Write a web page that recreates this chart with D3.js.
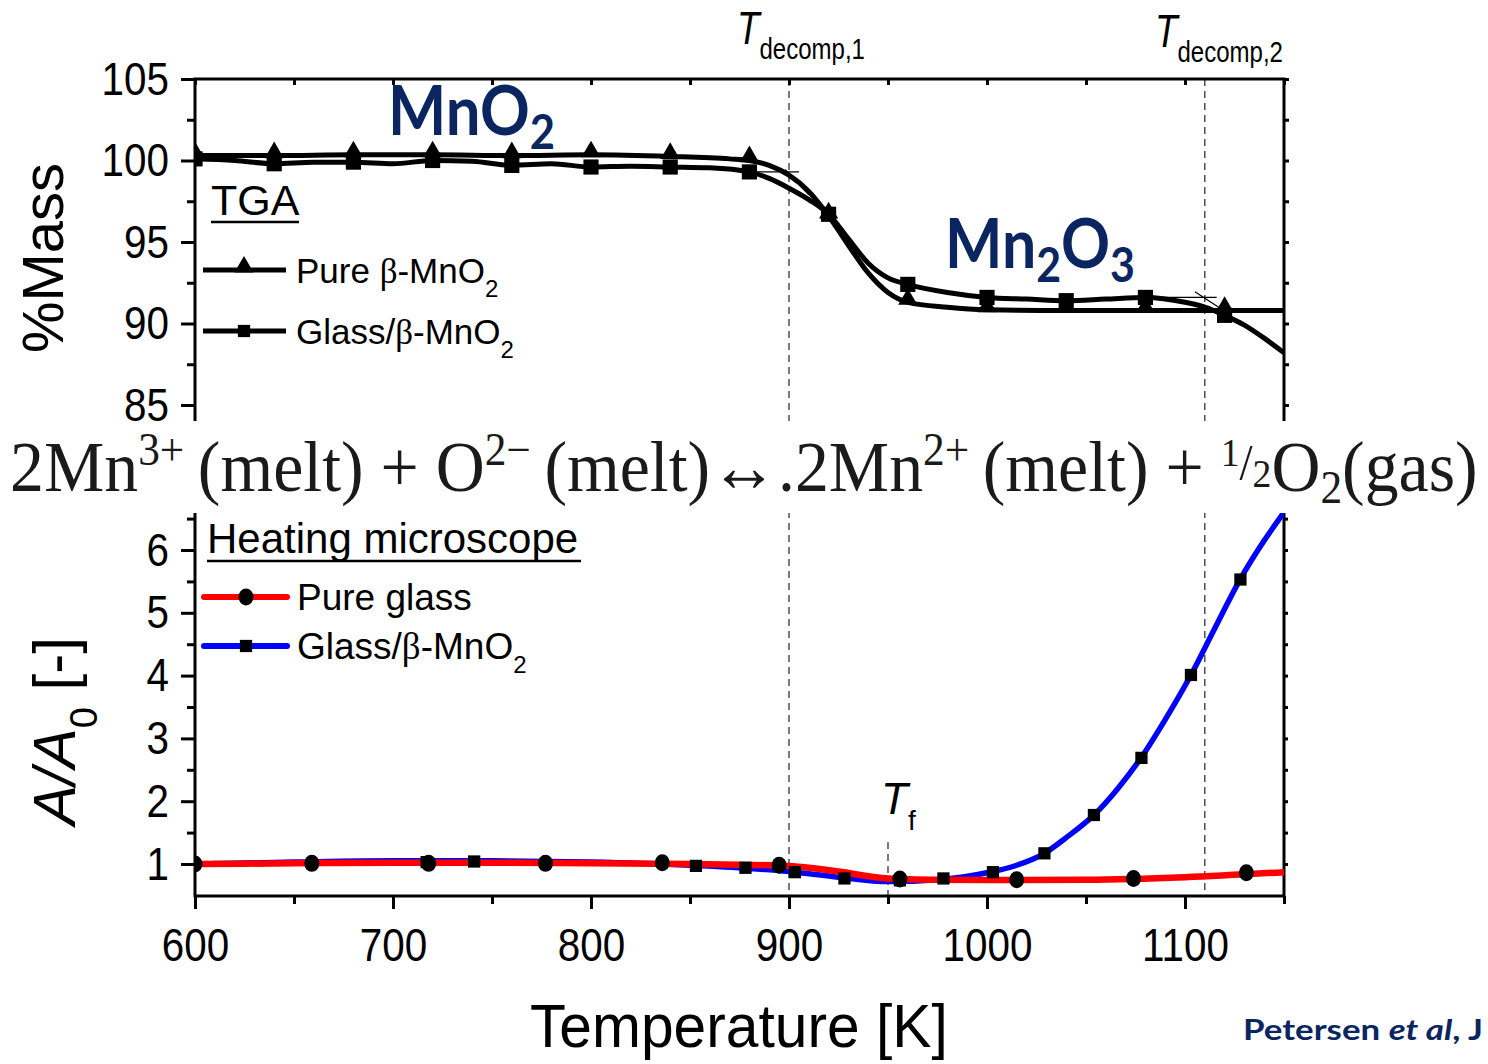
<!DOCTYPE html>
<html>
<head>
<meta charset="utf-8">
<script src="https://cdn.jsdelivr.net/npm/d3@7"></script>
<style>
  body { margin: 0; background: #fff; }
  svg { display: block; }
</style>
</head>
<body>
<div id="chart"></div>
<script>
// ---- data ----
const tgaPureT = [600, 640, 680, 720, 760, 800, 840, 870, 880, 890, 900, 910, 920, 930, 940, 950, 960, 980, 1000, 1040, 1080, 1120, 1150];
const tgaPureM = [100.3, 100.3, 100.35, 100.35, 100.3, 100.35, 100.25, 100.1, 100.0, 99.7, 99.1, 98.1, 96.6, 94.8, 93.1, 91.9, 91.3, 91.0, 90.85, 90.8, 90.8, 90.8, 90.8];
const tgaPureMarkT = [600, 640, 680, 720, 760, 800, 840, 880, 920, 960, 1000, 1040, 1080, 1120];
const tgaPureMarkM = [100.3, 100.3, 100.35, 100.35, 100.3, 100.35, 100.25, 100.05, 96.6, 91.3, 90.85, 90.8, 90.8, 90.8];

const tgaGlassT = [600, 620, 640, 660, 680, 700, 720, 740, 760, 780, 800, 820, 840, 860, 880, 890, 900, 910, 920, 930, 940, 950, 960, 980, 1000, 1020, 1040, 1060, 1080, 1100, 1110, 1120, 1130, 1140, 1150];
const tgaGlassM = [100.1, 100.0, 99.8, 99.9, 99.9, 99.8, 100.0, 99.95, 99.7, 99.8, 99.6, 99.65, 99.6, 99.55, 99.3, 98.9, 98.3, 97.6, 96.7, 95.2, 93.7, 92.8, 92.4, 91.9, 91.6, 91.5, 91.4, 91.5, 91.6, 91.3, 91.0, 90.5, 89.9, 89.1, 88.2];
const tgaGlassMarkT = [600, 640, 680, 720, 760, 800, 840, 880, 920, 960, 1000, 1040, 1080, 1120];
const tgaGlassMarkM = [100.1, 99.8, 99.9, 100.0, 99.7, 99.6, 99.6, 99.3, 96.7, 92.4, 91.6, 91.4, 91.6, 90.5];

const pureGlassT = [600, 650, 700, 750, 800, 850, 900, 925, 950, 975, 1000, 1050, 1100, 1150];
const pureGlassV = [1.0, 1.01, 1.02, 1.02, 1.01, 1.0, 0.97, 0.88, 0.77, 0.75, 0.745, 0.75, 0.79, 0.87];
const pureGlassMarkT = [600, 659, 718, 777, 836, 895, 956, 1015, 1074, 1131];
const pureGlassMarkV = [1.0, 1.01, 1.01, 1.01, 1.02, 0.98, 0.76, 0.75, 0.77, 0.86];

const mixT = [600, 650, 700, 750, 800, 850, 880, 900, 925, 950, 975, 1000, 1015, 1029, 1040, 1054, 1066, 1078, 1090, 1103, 1115, 1128, 1140, 1150];
const mixV = [1.0, 1.03, 1.05, 1.05, 1.03, 0.98, 0.93, 0.88, 0.79, 0.72, 0.75, 0.86, 0.98, 1.17, 1.42, 1.78, 2.2, 2.7, 3.3, 4.01, 4.75, 5.54, 6.15, 6.6];
const mixMarkT = [717, 741, 853, 878, 903, 928, 956, 978, 1003, 1029, 1054, 1078, 1103, 1128];
const mixMarkV = [1.03, 1.04, 0.97, 0.94, 0.87, 0.77, 0.74, 0.77, 0.87, 1.17, 1.78, 2.69, 4.01, 5.53];

// onset tangent construction lines (T, %mass pairs)
const tangent1 = [[[880, 99.3], [905, 99.3]], [[898, 99.45], [910, 97.9]]];
const tangent2 = [[[1082, 91.6], [1116, 91.6]], [[1105, 91.95], [1117, 91.0]]];

const xTicks = [600, 700, 800, 900, 1000, 1100];
const xMinor = [650, 750, 850, 950, 1050, 1150];
const massTicks = [85, 90, 95, 100, 105];
const massMinor = [87.5, 92.5, 97.5, 102.5];
const ratioTicks = [1, 2, 3, 4, 5, 6];
const ratioMinor = [1.5, 2.5, 3.5, 4.5, 5.5, 6.5];
const decompT = [900, 1110];
const flowT = 950;

// ---- layout ----
const W = 1488, H = 1064;
const left = 195, right = 1284;
const topY = 79, topEnd = 421, botStart = 513, botY = 896;
const sans = "'Liberation Sans', Arial, sans-serif";
const navy = "#0b2560";

const svg = d3.select("#chart").append("svg")
  .attr("width", W).attr("height", H)
  .style("background", "#fff");

const x = d3.scaleLinear().domain([600, 1150]).range([left, right]);
const yTop = d3.scaleLinear().domain([85, 105]).range([405, topY]);
const yBot = d3.scaleLinear().domain([1, 6]).range([864, 550]);

const defs = svg.append("defs");
defs.append("clipPath").attr("id", "clipTop").append("rect")
  .attr("x", left).attr("y", topY).attr("width", right - left).attr("height", topEnd - topY);
defs.append("clipPath").attr("id", "clipBot").append("rect")
  .attr("x", left).attr("y", botStart).attr("width", right - left).attr("height", botY - botStart);

// tick labels in the original are a slightly condensed Arial
const sx = 0.86;
function styleAxis(g) {
  g.select(".domain").remove();
  g.selectAll(".tick line").attr("stroke", "#000").attr("stroke-width", 3);
  g.selectAll("text").attr("font-family", sans).attr("font-size", 47).attr("fill", "#000")
    .each(function() {
      const t = d3.select(this);
      const xx = +t.attr("x") || 0;
      t.attr("x", xx / sx).attr("transform", `scale(${sx},1)`);
    });
}

// dashed guide lines (drawn first, under everything)
svg.selectAll(".decomp").data(decompT).enter().append("line")
  .attr("x1", d => x(d)).attr("x2", d => x(d))
  .attr("y1", topY).attr("y2", botY)
  .attr("stroke", "#333").attr("stroke-width", 1.3).attr("stroke-dasharray", "7,5");
svg.append("line")
  .attr("x1", x(flowT)).attr("x2", x(flowT)).attr("y1", 842).attr("y2", botY)
  .attr("stroke", "#333").attr("stroke-width", 1.3).attr("stroke-dasharray", "7,5");

// ---- top panel (TGA) ----
const frame = svg.append("g").attr("stroke", "#000").attr("stroke-width", 3).attr("fill", "none");
frame.append("path").attr("d", `M${left},${topEnd}V${topY}H${right}V${topEnd}`);
frame.append("path").attr("d", `M${left},${botStart}V${botY}H${right}V${botStart}`);

const lineTop = d3.line().x(d => x(d[0])).y(d => yTop(d[1])).curve(d3.curveMonotoneX);
const topG = svg.append("g").attr("clip-path", "url(#clipTop)");

topG.append("path").datum(d3.zip(tgaGlassT, tgaGlassM))
  .attr("d", lineTop).attr("fill", "none").attr("stroke", "#000").attr("stroke-width", 5);
topG.append("path").datum(d3.zip(tgaPureT, tgaPureM))
  .attr("d", lineTop).attr("fill", "none").attr("stroke", "#000").attr("stroke-width", 5);

tangent1.concat(tangent2).forEach(seg => {
  topG.append("path").datum(seg).attr("d", d3.line().x(d => x(d[0])).y(d => yTop(d[1])))
    .attr("stroke", "#000").attr("stroke-width", 1.2);
});

const tri = d3.symbol().type(d3.symbolTriangle).size(160);
const sq = d3.symbol().type(d3.symbolSquare).size(230);
const sqSmall = d3.symbol().type(d3.symbolSquare).size(150);

topG.selectAll(".triM").data(d3.zip(tgaPureMarkT, tgaPureMarkM)).enter().append("path")
  .attr("d", tri).attr("transform", d => `translate(${x(d[0])},${yTop(d[1]) - 3})`).attr("fill", "#000");
topG.selectAll(".sqM").data(d3.zip(tgaGlassMarkT, tgaGlassMarkM)).enter().append("path")
  .attr("d", sq).attr("transform", d => `translate(${x(d[0])},${yTop(d[1])})`).attr("fill", "#000");

// ---- bottom panel (heating microscope) ----
const lineBot = d3.line().x(d => x(d[0])).y(d => yBot(d[1])).curve(d3.curveMonotoneX);
const botG = svg.append("g").attr("clip-path", "url(#clipBot)");

botG.append("path").datum(d3.zip(mixT, mixV))
  .attr("d", lineBot).attr("fill", "none").attr("stroke", "#0000ff").attr("stroke-width", 5.5);
botG.append("path").datum(d3.zip(pureGlassT, pureGlassV))
  .attr("d", lineBot).attr("fill", "none").attr("stroke", "#ff0000").attr("stroke-width", 6.5);
botG.selectAll(".mixM").data(d3.zip(mixMarkT, mixMarkV)).enter().append("path")
  .attr("d", sqSmall).attr("transform", d => `translate(${x(d[0])},${yBot(d[1])})`).attr("fill", "#000");
botG.selectAll(".pgM").data(d3.zip(pureGlassMarkT, pureGlassMarkV)).enter().append("ellipse")
  .attr("cx", d => x(d[0])).attr("cy", d => yBot(d[1])).attr("rx", 7.5).attr("ry", 8.5).attr("fill", "#000");

// ---- equation band ----
svg.append("rect").attr("x", 0).attr("y", topEnd).attr("width", W).attr("height", botStart - topEnd).attr("fill", "#fff");

// ---- axes (over the band so the 85 label stays whole) ----
svg.append("g").attr("transform", `translate(${left},0)`)
  .call(d3.axisLeft(yTop).tickValues(massTicks).tickSize(14).tickPadding(12).tickFormat(d3.format("d")))
  .call(styleAxis);
svg.append("g").attr("transform", `translate(${left},0)`)
  .call(d3.axisLeft(yTop).tickValues(massMinor).tickSize(8).tickFormat(""))
  .call(styleAxis);
svg.append("g").attr("transform", `translate(${right},0)`)
  .call(d3.axisRight(yTop).tickValues(massTicks.concat(massMinor)).tickSize(5).tickFormat(""))
  .call(styleAxis);
svg.append("g").attr("transform", `translate(0,${topY})`)
  .call(d3.axisTop(x).tickValues(xTicks.concat(xMinor)).tickSize(-6).tickFormat(""))
  .call(styleAxis);

svg.append("g").attr("transform", `translate(${left},0)`)
  .call(d3.axisLeft(yBot).tickValues(ratioTicks).tickSize(14).tickPadding(12).tickFormat(d3.format("d")))
  .call(styleAxis);
svg.append("g").attr("transform", `translate(${left},0)`)
  .call(d3.axisLeft(yBot).tickValues(ratioMinor).tickSize(8).tickFormat(""))
  .call(styleAxis);
svg.append("g").attr("transform", `translate(${right},0)`)
  .call(d3.axisRight(yBot).tickValues(ratioTicks.concat(ratioMinor)).tickSize(4).tickFormat(""))
  .call(styleAxis);
svg.append("g").attr("transform", `translate(0,${botY})`)
  .call(d3.axisBottom(x).tickValues(xTicks).tickSize(13).tickPadding(19).tickFormat(d3.format("d")))
  .call(styleAxis);
svg.append("g").attr("transform", `translate(0,${botY})`)
  .call(d3.axisBottom(x).tickValues(xMinor).tickSize(8).tickFormat(""))
  .call(styleAxis);

function richText(sel, parts) {
  let shift = 0;
  parts.forEach(p => {
    const t = sel.append("tspan").text(p[0]).attr("dy", p[1] - shift);
    if (p[2]) t.attr("font-size", p[2]);
    if (p[3]) t.attr("font-style", p[3]);
    if (p[4]) t.attr("font-family", p[4]);
    shift = p[1];
  });
  return sel;
}
function fitWidth(sel, x0, y0, w) {
  const bw = sel.node().getBBox().width;
  sel.attr("transform", `translate(${x0},${y0}) scale(${w / bw},1)`);
}

const eq = svg.append("text").attr("font-family", "'Liberation Serif', 'Times New Roman', serif")
  .attr("font-size", 72).attr("fill", "#1a1a1a");
richText(eq, [
  ["2Mn", 0], ["3+", -26, 46], ["\u2009(melt) + O", 0], ["2\u2212", -26, 46],
  ["\u2009(melt)\u2194.2Mn", 0], ["2+", -26, 46], ["\u2009(melt) + ", 0],
  ["1", -25, 40], ["/", -12, 50], ["2", -4, 40], ["O", 0], ["2", 12, 46], ["(gas)", 0]
]);
fitWidth(eq, 10, 491, 1468);

// ---- annotations ----
const td1 = svg.append("text").attr("font-family", sans).attr("font-size", 46);
richText(td1, [["T", 0, null, "italic"], ["decomp,1", 15, 30]]);
fitWidth(td1, 737, 44, 128);
const td2 = svg.append("text").attr("font-family", sans).attr("font-size", 46);
richText(td2, [["T", 0, null, "italic"], ["decomp,2", 15, 30]]);
fitWidth(td2, 1155, 47, 128);
const tf = svg.append("text").attr("font-family", sans).attr("font-size", 44).attr("x", 881).attr("y", 814);
richText(tf, [["T", 0, null, "italic"], ["f", 16, 28]]);

const lato = "Lato, 'Open Sans', sans-serif";
const mno2 = svg.append("text").attr("font-family", lato).attr("font-weight", 700)
  .attr("font-size", 68).attr("fill", navy);
richText(mno2, [["MnO", 0], ["2", 14, 48]]);
fitWidth(mno2, 388, 135, 167);
const mn2o3 = svg.append("text").attr("font-family", lato).attr("font-weight", 700)
  .attr("font-size", 68).attr("fill", navy);
richText(mn2o3, [["Mn", 0], ["2", 14, 48], ["O", 0], ["3", 14, 48]]);
fitWidth(mn2o3, 945, 268, 190);

// ---- legends ----
const leg = svg.append("g").attr("font-family", sans).attr("fill", "#000");
leg.append("text").attr("x", 211).attr("y", 215).attr("font-size", 43).text("TGA");
leg.append("line").attr("x1", 211).attr("x2", 299).attr("y1", 222).attr("y2", 222).attr("stroke", "#000").attr("stroke-width", 2.5);
leg.append("line").attr("x1", 203).attr("x2", 286).attr("y1", 270).attr("y2", 270).attr("stroke", "#000").attr("stroke-width", 5);
leg.append("path").attr("d", tri).attr("transform", "translate(244,267)");
leg.append("line").attr("x1", 203).attr("x2", 286).attr("y1", 331).attr("y2", 331).attr("stroke", "#000").attr("stroke-width", 5);
leg.append("path").attr("d", sqSmall).attr("transform", "translate(244,331)");
richText(leg.append("text").attr("x", 296).attr("y", 283).attr("font-size", 35),
  [["Pure ", 0], ["\u03b2", 0, null, null, "'Liberation Serif', serif"], ["-MnO", 0], ["2", 14, 24]]);
richText(leg.append("text").attr("x", 296).attr("y", 344).attr("font-size", 35),
  [["Glass/", 0], ["\u03b2", 0, null, null, "'Liberation Serif', serif"], ["-MnO", 0], ["2", 14, 24]]);

leg.append("text").attr("x", 207).attr("y", 553).attr("font-size", 42).text("Heating microscope");
leg.append("line").attr("x1", 207).attr("x2", 581).attr("y1", 561).attr("y2", 561).attr("stroke", "#000").attr("stroke-width", 2.5);
leg.append("line").attr("x1", 204).attr("x2", 287).attr("y1", 597).attr("y2", 597).attr("stroke", "#ff0000").attr("stroke-width", 6).attr("stroke-linecap", "round");
leg.append("ellipse").attr("cx", 246).attr("cy", 597).attr("rx", 7.5).attr("ry", 8.5);
leg.append("line").attr("x1", 204).attr("x2", 287).attr("y1", 646).attr("y2", 646).attr("stroke", "#0000ff").attr("stroke-width", 6).attr("stroke-linecap", "round");
leg.append("path").attr("d", sqSmall).attr("transform", "translate(246,646)");
leg.append("text").attr("x", 297).attr("y", 610).attr("font-size", 37).text("Pure glass");
richText(leg.append("text").attr("x", 297).attr("y", 659).attr("font-size", 37),
  [["Glass/", 0], ["\u03b2", 0, null, null, "'Liberation Serif', serif"], ["-MnO", 0], ["2", 14, 24]]);

// ---- axis titles ----
svg.append("text").attr("transform", "translate(63,258) rotate(-90)")
  .attr("text-anchor", "middle").attr("font-family", sans).attr("font-size", 58).text("%Mass");
richText(svg.append("text").attr("transform", "translate(75,731) rotate(-90)")
  .attr("text-anchor", "middle").attr("font-family", sans).attr("font-size", 60),
  [["A/A", 0, null, "italic"], ["0", 22, 38], [" [-]", 0]]);
const xt = svg.append("text").attr("font-family", sans).attr("font-size", 62).text("Temperature [K]");
fitWidth(xt, 530, 1047, 418);

// ---- citation ----
const cite = svg.append("text").attr("font-family", lato).attr("font-weight", 700)
  .attr("font-size", 28).attr("fill", navy);
richText(cite, [["Petersen ", 0], ["et al", 0, null, "italic"], [", J", 0]]);
fitWidth(cite, 1243, 1040, 240);
</script>
</body>
</html>
